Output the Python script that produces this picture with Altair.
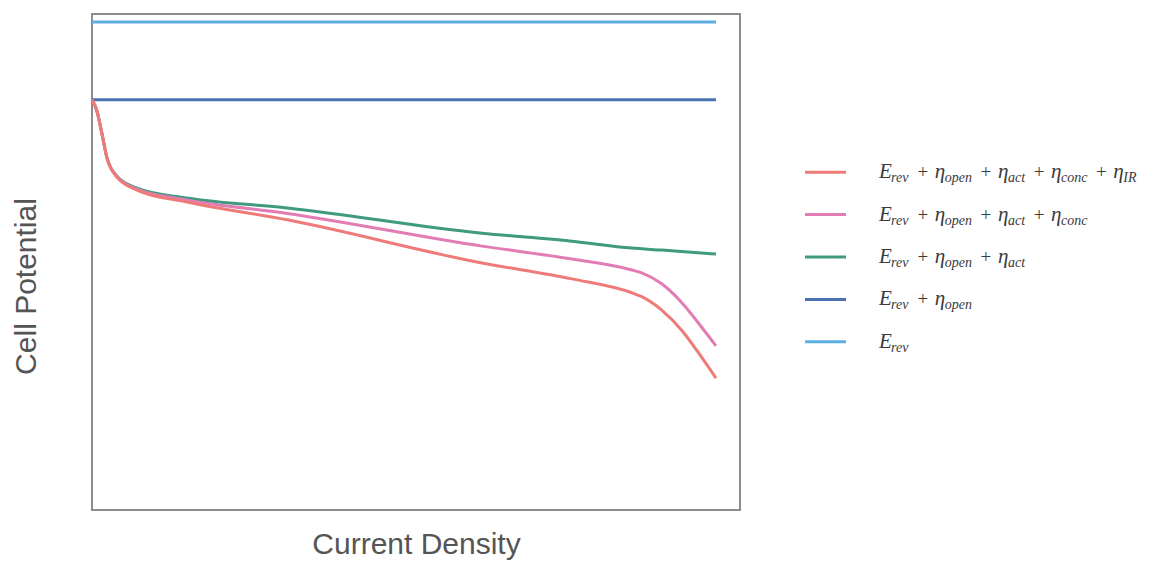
import altair as alt
import pandas as pd

# ---------------- data ----------------
SERIES = ["IR", "conc", "act", "open", "rev"]
COLORS = ["#EE7B78", "#E27CB4", "#3F9A80", "#4A72B0", "#5DAEE3"]

X_REV = [0, 100]
Y_REV = [98.4, 98.4]

X_OPEN = [0, 100]
Y_OPEN = [82.7, 82.7]

X_ACT = [0, 0.8, 1.6, 2.4, 4.0, 7.2, 15.2, 31.3, 62.5, 76.9, 86.5, 91.3, 100]
Y_ACT = [82.7, 80.4, 75.8, 71.0, 67.3, 64.9, 62.9, 60.9, 55.8, 54.2, 52.8, 52.4, 51.6]

X_CONC = [0, 0.8, 1.6, 2.4, 4.0, 7.2, 15.2, 31.3, 62.5, 76.9, 86.5, 88.1, 91.3, 94.6, 97.8, 100]
Y_CONC = [82.7, 80.4, 75.8, 71.0, 67.2, 64.7, 62.5, 59.8, 53.2, 50.6, 48.4, 47.8, 45.6, 41.7, 36.7, 33.1]

X_IR = [0, 0.8, 1.6, 2.4, 4.0, 7.2, 15.2, 31.3, 62.5, 76.9, 86.5, 88.1, 91.3, 94.6, 97.8, 100]
Y_IR = [82.7, 80.4, 75.8, 71.0, 67.1, 64.5, 62.1, 58.5, 49.8, 46.6, 43.8, 43.0, 40.3, 36.1, 30.6, 26.6]

# legend terms: (symbol, subscript)
LEGEND_TERMS = {
    "IR":   [("E", "rev"), ("η", "open"), ("η", "act"), ("η", "conc"), ("η", "IR")],
    "conc": [("E", "rev"), ("η", "open"), ("η", "act"), ("η", "conc")],
    "act":  [("E", "rev"), ("η", "open"), ("η", "act")],
    "open": [("E", "rev"), ("η", "open")],
    "rev":  [("E", "rev")],
}

# ---------------- tables ----------------
rows = []
for key, xs, ys in [("rev", X_REV, Y_REV), ("open", X_OPEN, Y_OPEN), ("act", X_ACT, Y_ACT),
                    ("conc", X_CONC, Y_CONC), ("IR", X_IR, Y_IR)]:
    for x, y in zip(xs, ys):
        rows.append({"series": key, "x": x, "y": y})
lines_df = pd.DataFrame(rows)

SUB_SIZE = 14
CHAR_EM = {"r": 0.39, "e": 0.44, "v": 0.44, "o": 0.5, "p": 0.5, "n": 0.5,
           "a": 0.5, "c": 0.44, "t": 0.28, "I": 0.33, "R": 0.61}
TEXT_START = 137
MAIN_W = {"E": 13, "η": 11}
PLUS_GAP = 25
main_rows, sub_rows, plus_rows = [], [], []
for key, terms in LEGEND_TERMS.items():
    pos = TEXT_START
    for i, (sym, sub) in enumerate(terms):
        if i > 0:
            plus_rows.append({"series": key, "t": "+", "px": pos - 12})
        main_rows.append({"series": key, "t": sym, "px": pos})
        sub_rows.append({"series": key, "t": sub, "px": pos + MAIN_W[sym] - 1})
        sub_w = sum(CHAR_EM[c] for c in sub) * SUB_SIZE
        pos += MAIN_W[sym] + sub_w + PLUS_GAP
main_df = pd.DataFrame(main_rows)
sub_df = pd.DataFrame(sub_rows)
plus_df = pd.DataFrame(plus_rows)
swatch_df = pd.DataFrame({"series": SERIES})

color_scale = alt.Scale(domain=SERIES, range=COLORS)

# ---------------- main chart ----------------
main = alt.Chart(lines_df).mark_line(strokeWidth=3, interpolate="monotone").encode(
    x=alt.X("x:Q", scale=alt.Scale(domain=[0, 103.85], nice=False, zero=False),
            axis=alt.Axis(title="Current Density", labels=False, ticks=False, domain=False,
                          grid=False, titleFontSize=30, titleFont="Liberation Sans",
                          titleFontWeight="normal", titleColor="#555555", titlePadding=19)),
    y=alt.Y("y:Q", scale=alt.Scale(domain=[0, 100], nice=False),
            axis=alt.Axis(title="Cell Potential", labels=False, ticks=False, domain=False,
                          grid=False, titleFontSize=30, titleFont="Liberation Sans",
                          titleFontWeight="normal", titleColor="#555555",
                          titleX=-66, titleY=272, titleBaseline="middle", titleAlign="center",
                          titleAngle=270)),
    color=alt.Color("series:N", scale=color_scale, legend=None),
    detail="series:N",
).properties(width=648, height=496,
             view=alt.ViewBackground(stroke="#8c8c8c", strokeWidth=2))

# ---------------- legend chart ----------------
LX = alt.Scale(domain=[0, 400], range=[0, 400])
LY = alt.Scale(domain=SERIES, range=[137, 349], padding=0)

swatch = alt.Chart(swatch_df).mark_rule(strokeWidth=3).encode(
    x=alt.value(63), x2=alt.value(104),
    y=alt.Y("series:N", scale=LY, axis=None),
    color=alt.Color("series:N", scale=color_scale, legend=None),
)
main_txt = alt.Chart(main_df).mark_text(
    font="Liberation Serif", fontStyle="italic", fontSize=21, align="left",
    baseline="alphabetic", dy=6, color="#3a3a3a").encode(
    x=alt.X("px:Q", scale=LX, axis=None),
    y=alt.Y("series:N", scale=LY, axis=None),
    text="t:N")
sub_txt = alt.Chart(sub_df).mark_text(
    font="Liberation Serif", fontStyle="italic", fontSize=SUB_SIZE, align="left",
    baseline="alphabetic", dy=10, color="#3a3a3a").encode(
    x=alt.X("px:Q", scale=LX, axis=None),
    y=alt.Y("series:N", scale=LY, axis=None),
    text="t:N")
plus_txt = alt.Chart(plus_df).mark_text(
    font="Liberation Serif", fontSize=19, align="center",
    baseline="alphabetic", dy=6, color="#3a3a3a").encode(
    x=alt.X("px:Q", scale=LX, axis=None),
    y=alt.Y("series:N", scale=LY, axis=None),
    text="t:N")

legend = alt.layer(swatch, main_txt, sub_txt, plus_txt).properties(
    width=400, height=496, view=alt.ViewBackground(stroke="transparent"))

chart = alt.hconcat(main, legend, spacing=0).properties(
    padding={"left": 2, "top": 5, "right": 0, "bottom": 0}
).configure_view(stroke="transparent").resolve_scale(color="shared")

chart.save("out.html", embed_options={"renderer": "svg", "actions": False})
